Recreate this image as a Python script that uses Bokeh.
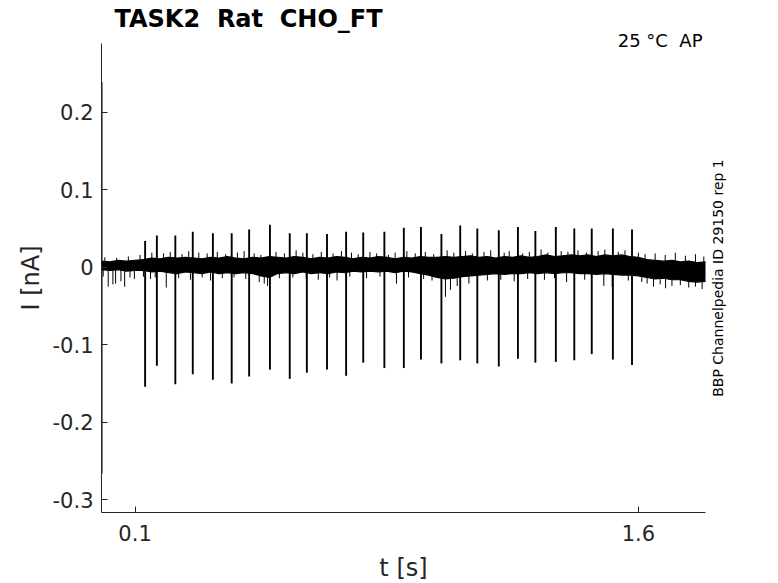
from bokeh.plotting import figure
from bokeh.models import Range1d, FixedTicker, Label, LinearAxis
from bokeh.embed import file_html
from bokeh.resources import INLINE

# ---- data ----
# current spikes: time [s], negative peak [nA], positive peak [nA]
spike_t = [0.130, 0.165, 0.220, 0.272, 0.332, 0.388, 0.440, 0.502, 0.561, 0.612,
           0.672, 0.729, 0.780, 0.843, 0.901, 0.952, 1.013, 1.069, 1.120, 1.184,
           1.241, 1.293, 1.354, 1.409, 1.461, 1.524, 1.581]
spike_min = [-0.154, -0.127, -0.151, -0.138, -0.145, -0.150, -0.141, -0.132, -0.144, -0.136,
             -0.132, -0.140, -0.123, -0.130, -0.130, -0.119, -0.124, -0.120, -0.124, -0.128,
             -0.118, -0.123, -0.122, -0.120, -0.112, -0.119, -0.126]
spike_max = [0.034, 0.041, 0.041, 0.046, 0.044, 0.044, 0.049, 0.055, 0.044, 0.044,
             0.043, 0.046, 0.045, 0.046, 0.051, 0.052, 0.043, 0.054, 0.050, 0.048,
             0.052, 0.047, 0.052, 0.050, 0.050, 0.050, 0.049]

# dense core of the overlaid baseline sweeps
band_t = [0.000, 0.025, 0.050, 0.075, 0.100, 0.125, 0.150, 0.175, 0.200, 0.225,
          0.250, 0.275, 0.300, 0.325, 0.350, 0.375, 0.400, 0.425, 0.450, 0.475,
          0.500, 0.525, 0.550, 0.575, 0.600, 0.625, 0.650, 0.675, 0.700, 0.725,
          0.750, 0.775, 0.800, 0.825, 0.850, 0.875, 0.900, 0.925, 0.950, 0.975,
          1.000, 1.025, 1.050, 1.075, 1.100, 1.125, 1.150, 1.175, 1.200, 1.225,
          1.250, 1.275, 1.300, 1.325, 1.350, 1.375, 1.400, 1.425, 1.450, 1.475,
          1.500, 1.525, 1.550, 1.575, 1.600, 1.625, 1.650, 1.675, 1.700, 1.725,
          1.750, 1.775, 1.800]
band_hi = [0.008, 0.007, 0.009, 0.008, 0.009, 0.010, 0.012, 0.011, 0.013, 0.012,
           0.013, 0.012, 0.011, 0.013, 0.012, 0.014, 0.012, 0.011, 0.013, 0.012,
           0.014, 0.013, 0.012, 0.014, 0.013, 0.011, 0.013, 0.012, 0.014, 0.013,
           0.011, 0.013, 0.012, 0.014, 0.013, 0.011, 0.013, 0.012, 0.014, 0.013,
           0.013, 0.014, 0.013, 0.014, 0.015, 0.013, 0.014, 0.012, 0.014, 0.013,
           0.015, 0.013, 0.014, 0.016, 0.014, 0.015, 0.016, 0.015, 0.016, 0.014,
           0.016, 0.015, 0.016, 0.014, 0.013, 0.010, 0.009, 0.008, 0.009, 0.007,
           0.008, 0.006, 0.007]
band_lo = [-0.003, -0.004, -0.003, -0.005, -0.004, -0.004, -0.006, -0.005, -0.007, -0.008,
           -0.006, -0.007, -0.008, -0.006, -0.008, -0.007, -0.008, -0.007, -0.008, -0.011,
           -0.013, -0.008, -0.007, -0.008, -0.006, -0.008, -0.007, -0.008, -0.006, -0.007,
           -0.005, -0.006, -0.005, -0.006, -0.005, -0.007, -0.005, -0.006, -0.008, -0.010,
           -0.013, -0.015, -0.014, -0.012, -0.011, -0.010, -0.009, -0.008, -0.009, -0.008,
           -0.008, -0.007, -0.008, -0.007, -0.008, -0.007, -0.007, -0.008, -0.008, -0.009,
           -0.008, -0.009, -0.010, -0.010, -0.011, -0.013, -0.015, -0.014, -0.016, -0.016,
           -0.018, -0.019, -0.018]

# upward noise excursions (time, peak)
up_t = [0.010, 0.045, 0.080, 0.115, 0.150, 0.185, 0.205, 0.240, 0.260, 0.290,
        0.315, 0.345, 0.370, 0.405, 0.425, 0.455, 0.475, 0.520, 0.545, 0.580,
        0.600, 0.630, 0.655, 0.690, 0.715, 0.745, 0.765, 0.800, 0.820, 0.855,
        0.875, 0.910, 0.935, 0.965, 0.990, 1.030, 1.050, 1.085, 1.105, 1.140,
        1.160, 1.200, 1.215, 1.255, 1.275, 1.310, 1.330, 1.370, 1.390, 1.420,
        1.445, 1.480, 1.500, 1.540, 1.560, 1.600, 1.620, 1.650, 1.680, 1.710,
        1.740, 1.770, 1.795]
up_v = [0.013, 0.012, 0.014, 0.016, 0.019, 0.018, 0.020, 0.017, 0.021, 0.019,
        0.018, 0.020, 0.017, 0.019, 0.021, 0.018, 0.016, 0.020, 0.018, 0.022,
        0.019, 0.017, 0.020, 0.018, 0.021, 0.019, 0.017, 0.020, 0.018, 0.016,
        0.019, 0.021, 0.018, 0.020, 0.017, 0.022, 0.019, 0.021, 0.018, 0.020,
        0.022, 0.019, 0.021, 0.018, 0.020, 0.023, 0.019, 0.021, 0.020, 0.022,
        0.019, 0.021, 0.023, 0.020, 0.022, 0.019, 0.017, 0.018, 0.016, 0.019,
        0.015, 0.017, 0.014]
# downward noise excursions (time, trough)
dn_t = [0.005, 0.020, 0.034, 0.042, 0.058, 0.069, 0.085, 0.098, 0.125, 0.146,
        0.160, 0.193, 0.230, 0.265, 0.300, 0.325, 0.360, 0.395, 0.430, 0.470,
        0.485, 0.495, 0.530, 0.570, 0.610, 0.646, 0.680, 0.702, 0.740, 0.790,
        0.830, 0.879, 0.915, 0.960, 0.985, 1.025, 1.040, 1.060, 1.095, 1.150,
        1.190, 1.230, 1.270, 1.320, 1.350, 1.386, 1.440, 1.497, 1.522, 1.570,
        1.610, 1.626, 1.645, 1.665, 1.681, 1.700, 1.725, 1.750, 1.770, 1.790]
dn_v = [-0.012, -0.025, -0.022, -0.021, -0.018, -0.025, -0.013, -0.015, -0.012, -0.015,
        -0.013, -0.026, -0.014, -0.016, -0.013, -0.017, -0.014, -0.013, -0.015, -0.019,
        -0.021, -0.024, -0.014, -0.013, -0.015, -0.016, -0.013, -0.017, -0.012, -0.014,
        -0.012, -0.021, -0.013, -0.015, -0.017, -0.038, -0.029, -0.024, -0.021, -0.017,
        -0.016, -0.018, -0.015, -0.016, -0.014, -0.019, -0.016, -0.024, -0.025, -0.017,
        -0.019, -0.021, -0.025, -0.022, -0.027, -0.024, -0.023, -0.026, -0.025, -0.028]

# initial capacitive transient
transient_t = [0.001]
transient_lo = [-0.266]
transient_hi = [0.239]

x_lim = [0.0, 1.8]
y_lim = [-0.3165, 0.289]
x_ticks = [0.1, 1.6]
y_ticks = [-0.3, -0.2, -0.1, 0.0, 0.1, 0.2]
y_tick_labels = ["-0.3", "-0.2", "-0.1", "0", "0.1", "0.2"]

title_text = "TASK2  Rat  CHO_FT"
cond_text = "25 °C  AP"
side_text = "BBP Channelpedia ID 29150 rep 1"
x_label = "t [s]"
y_label = "I [nA]"

def keep_spaces(s):
    # SVG collapses runs of spaces; keep the double spacing visible
    return s.replace(" ", "\u00a0")

# ---- layout (pixels) ----
W, H = 770, 580
AX_L, AX_R, AX_T, AX_B = 101, 705, 43, 512   # axes box in the page
sx = (AX_R - AX_L) / (x_lim[1] - x_lim[0])
sy = (AX_B - AX_T) / (y_lim[1] - y_lim[0])
def px_x(px):
    return x_lim[0] + (px - AX_L) / sx
def px_y(py):
    return y_lim[1] - (py - AX_T) / sy

FONT = "DejaVu Sans"
AX = "#262626"

p = figure(width=W, height=H, output_backend="svg", toolbar_location=None,
           x_range=Range1d(px_x(0), px_x(W)), y_range=Range1d(px_y(H), px_y(0)),
           min_border=0, x_axis_location=None, y_axis_location=None)
p.outline_line_color = None
p.grid.visible = False
p.background_fill_color = "white"
p.border_fill_color = "white"

# data glyphs
p.varea(x=band_t, y1=band_lo, y2=band_hi, fill_color="black")
p.line(x=band_t, y=band_hi, line_color="black", line_width=1.2)
p.line(x=band_t, y=band_lo, line_color="black", line_width=1.2)
p.segment(x0=up_t, y0=[0.0] * len(up_t), x1=up_t, y1=up_v, line_color="black", line_width=1)
p.segment(x0=dn_t, y0=[0.0] * len(dn_t), x1=dn_t, y1=dn_v, line_color="black", line_width=1)
p.segment(x0=spike_t, y0=spike_min, x1=spike_t, y1=spike_max, line_color="black", line_width=1.9)
p.segment(x0=transient_t, y0=transient_lo, x1=transient_t, y1=transient_hi,
          line_color="black", line_width=1.3)

# axes drawn at the box edges, limited to the data limits
xaxis = LinearAxis(fixed_location=y_lim[0], bounds=(x_lim[0], x_lim[1]))
yaxis = LinearAxis(fixed_location=x_lim[0], bounds=(y_lim[0], y_lim[1]))
p.add_layout(xaxis, "below")
p.add_layout(yaxis, "left")
for ax in (xaxis, yaxis):
    ax.axis_line_color = AX
    ax.major_tick_line_color = AX
    ax.major_tick_in = 6
    ax.major_tick_out = 0
    ax.minor_tick_line_color = None
    ax.major_label_text_font = FONT
    ax.major_label_text_font_size = "21px"
    ax.major_label_text_color = AX
xaxis.ticker = FixedTicker(ticks=x_ticks)
xaxis.major_label_standoff = 12
yaxis.ticker = FixedTicker(ticks=y_ticks)
yaxis.major_label_overrides = {t: s for t, s in zip(y_ticks, y_tick_labels)}
yaxis.major_label_standoff = 8

# texts
p.add_layout(Label(x=px_x(114), y=px_y(18), text=keep_spaces(title_text), text_font=FONT,
                   text_font_size="24px", text_font_style="bold", text_color="black",
                   text_baseline="middle", text_align="left"))
p.add_layout(Label(x=px_x(702), y=px_y(39.5), text=keep_spaces(cond_text), text_font=FONT,
                   text_font_size="18px", text_color="black",
                   text_baseline="middle", text_align="right"))
p.add_layout(Label(x=px_x(717), y=px_y(277.5), text=side_text, text_font=FONT,
                   text_font_size="14px", text_color="black", angle=1.5707963,
                   text_baseline="middle", text_align="center"))
p.add_layout(Label(x=px_x(30), y=px_y(277.5), text=y_label, text_font=FONT,
                   text_font_size="24px", text_color=AX, angle=1.5707963,
                   text_baseline="middle", text_align="center"))
p.add_layout(Label(x=px_x(403), y=px_y(567), text=x_label, text_font=FONT,
                   text_font_size="24px", text_color=AX,
                   text_baseline="middle", text_align="center"))

open("out.html", "w").write(file_html(p, INLINE))
